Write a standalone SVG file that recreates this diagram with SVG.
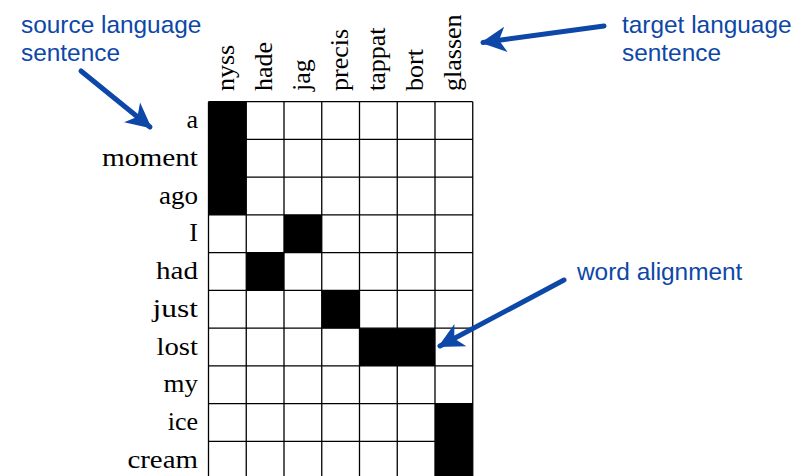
<svg xmlns="http://www.w3.org/2000/svg" width="805" height="476" viewBox="0 0 805 476">
<style>
.lbl{font-family:"Liberation Serif","Times New Roman",serif;font-size:26px;fill:#000}
.row{text-anchor:end}
.note{font-family:"Liberation Sans",Arial,sans-serif;font-size:24.4px;fill:#0d47a8}
.grid{stroke:#000;stroke-width:1.3;fill:none}
.on{fill:#000}
.arr{stroke:#0d47a8;stroke-width:5;fill:none;stroke-linecap:round}
</style>
<defs>
<marker id="head" markerUnits="userSpaceOnUse" markerWidth="30" markerHeight="30" viewBox="-22 -12 26 24" refX="0" refY="0" orient="auto">
<path d="M2,0 L-20,-11 L-14,0 L-20,11 Z" fill="#0d47a8"/>
</marker>
</defs>
<rect width="805" height="476" fill="#fff"/>
<g id="matrix">
<rect class="on" x="208.5" y="101.7" width="37.75" height="113.25"/>
<rect class="on" x="284" y="214.95" width="37.75" height="37.75"/>
<rect class="on" x="246.25" y="252.7" width="37.75" height="37.75"/>
<rect class="on" x="321.75" y="290.45" width="37.75" height="37.75"/>
<rect class="on" x="359.5" y="328.2" width="75.5" height="37.75"/>
<rect class="on" x="435" y="403.7" width="37.75" height="75.5"/>
<path class="grid" d="M208.5,101.7V480 M246.25,101.7V480 M284,101.7V480 M321.75,101.7V480 M359.5,101.7V480 M397.25,101.7V480 M435,101.7V480 M472.75,101.7V480 M208.5,101.7H472.75 M208.5,139.45H472.75 M208.5,177.2H472.75 M208.5,214.95H472.75 M208.5,252.7H472.75 M208.5,290.45H472.75 M208.5,328.2H472.75 M208.5,365.95H472.75 M208.5,403.7H472.75 M208.5,441.45H472.75"/>
</g>
<g id="source-words">
<text class="lbl row" x="198" y="128.1">a</text>
<text class="lbl row" x="198" y="165.8" textLength="96" lengthAdjust="spacingAndGlyphs">moment</text>
<text class="lbl row" x="198" y="203.6" textLength="39" lengthAdjust="spacingAndGlyphs">ago</text>
<text class="lbl row" x="198" y="241.3">I</text>
<text class="lbl row" x="198" y="279.1" textLength="42" lengthAdjust="spacingAndGlyphs">had</text>
<text class="lbl row" x="198" y="316.8" textLength="45.5" lengthAdjust="spacingAndGlyphs">just</text>
<text class="lbl row" x="198" y="354.6" textLength="41.5" lengthAdjust="spacingAndGlyphs">lost</text>
<text class="lbl row" x="198" y="392.3" textLength="34.5" lengthAdjust="spacingAndGlyphs">my</text>
<text class="lbl row" x="198" y="430.1">ice</text>
<text class="lbl row" x="198" y="467.8" textLength="70.6" lengthAdjust="spacingAndGlyphs">cream</text>
</g>
<g id="target-words">
<text class="lbl" transform="translate(234.4,91) rotate(-90)">nyss</text>
<text class="lbl" transform="translate(272.1,91) rotate(-90)">hade</text>
<text class="lbl" transform="translate(309.9,91) rotate(-90)">jag</text>
<text class="lbl" transform="translate(347.6,91) rotate(-90)">precis</text>
<text class="lbl" transform="translate(385.4,91) rotate(-90)">tappat</text>
<text class="lbl" transform="translate(423.1,91) rotate(-90)">bort</text>
<text class="lbl" transform="translate(460.9,91) rotate(-90)">glassen</text>
</g>
<g id="note-source">
<text class="note" x="21" y="33">source language</text>
<text class="note" x="21" y="61">sentence</text>
</g>
<g id="note-target">
<text class="note" x="622" y="33">target language</text>
<text class="note" x="622" y="61">sentence</text>
</g>
<g id="note-alignment">
<text class="note" x="577" y="280">word alignment</text>
</g>
<g id="connectors">
<path class="arr" d="M81,71 L150,127" marker-end="url(#head)"/>
<path class="arr" d="M604,26 L483,42.5" marker-end="url(#head)"/>
<path class="arr" d="M564,280 L440,346" marker-end="url(#head)"/>
</g>
</svg>
